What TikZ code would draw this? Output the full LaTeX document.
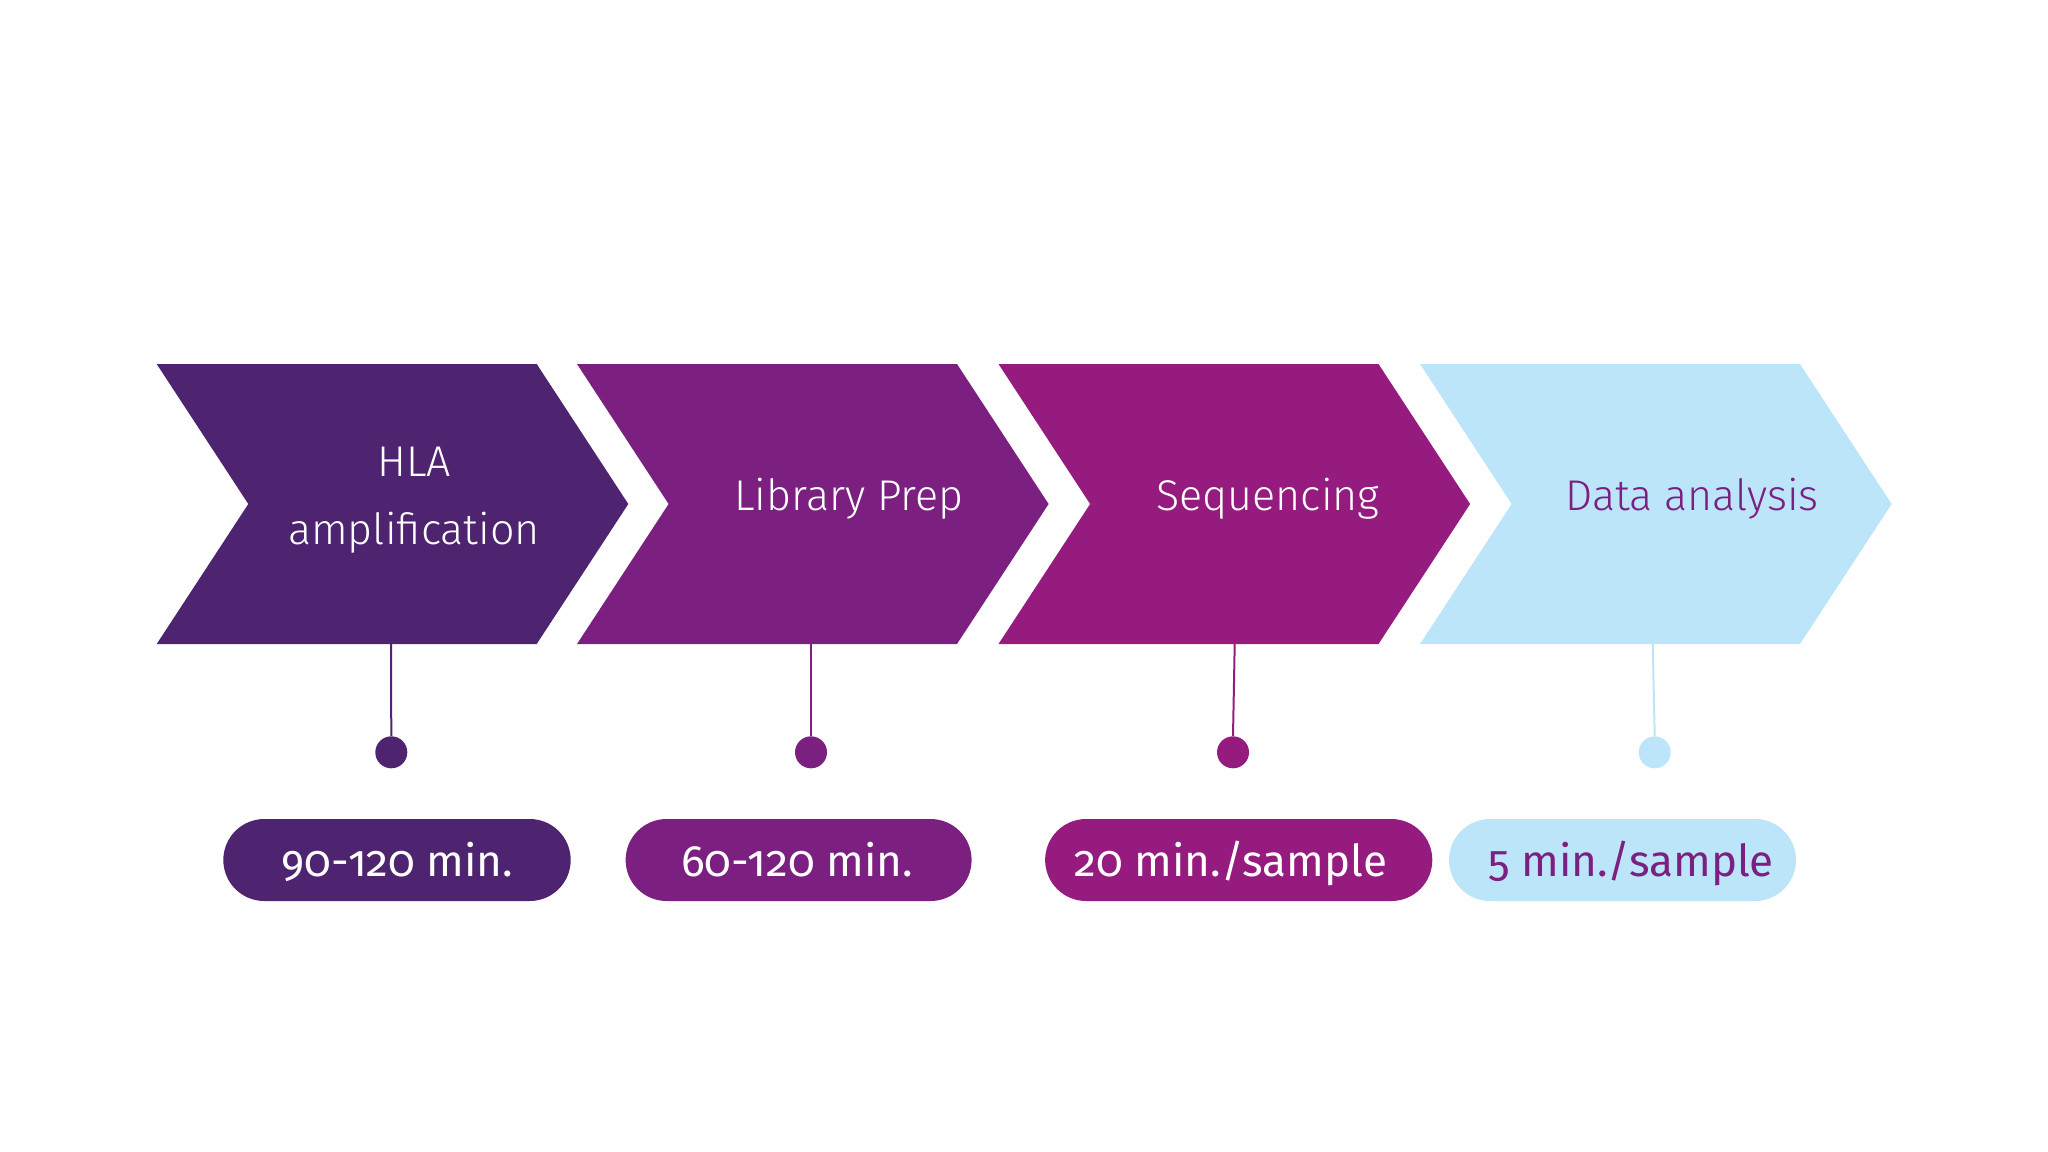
\documentclass[tikz,border=0pt]{standalone}
\usepackage{fontspec}
\setmainfont{Fira Sans}
\newfontfamily\chevfont{Fira Sans}[UprightFont=* Light]
\newfontfamily\pillfont{Fira Sans}[Numbers=OldStyle]
\usetikzlibrary{shapes.misc}
\definecolor{cA}{HTML}{4E2370}
\definecolor{cB}{HTML}{7B2080}
\definecolor{cC}{HTML}{951B7E}
\definecolor{cD}{HTML}{BDE5F9}
\tikzset{
  chevtext/.style={font=\chevfont\fontsize{21.5}{30}\selectfont, anchor=base, inner sep=0pt},
  pill/.style={rounded rectangle, minimum height=41pt, inner sep=0pt},
  pilltext/.style={font=\pillfont\fontsize{22}{26}\selectfont, anchor=base, inner sep=0pt},
  dotnode/.style={circle, minimum size=16pt, inner sep=0pt},
  stem/.style={line width=1pt}
}
\begin{document}
\begin{tikzpicture}[x=0.5pt,y=-0.5pt]
\useasboundingbox (0,0) rectangle (2048,1151);
% chevrons
\foreach \xo/\col in {156.7/cA,577/cB,998.5/cC,1420/cD}{
  \fill[\col] (\xo,364) -- ++(380,0) -- ++(91.6,140) -- ++(-91.6,140) -- ++(-380,0) -- ++(91.6,-140) -- cycle;
}
% chevron texts
\node[chevtext, text=white] (t1) at (414,476.7) {HLA};
\node[chevtext, text=white] (t1b) at (414,544) {amplification};
\node[chevtext, text=white] (t2) at (849,510.7) {Library Prep};
\node[chevtext, text=white] (t3) at (1268,510.7) {Sequencing};
\node[chevtext, text=cB] (t4) at (1692,510.7) {Data analysis};
% stem tops
\coordinate (s1) at (391,644);
\coordinate (s2) at (811,644);
\coordinate (s3) at (1234.7,644);
\coordinate (s4) at (1652.7,644);
% dots
\node[dotnode, fill=cA] (d1) at (391.3,752.3) {};
\node[dotnode, fill=cB] (d2) at (811,752.3) {};
\node[dotnode, fill=cC] (d3) at (1233,752.3) {};
\node[dotnode, fill=cD] (d4) at (1654.7,752.3) {};
\draw[stem, cA] (s1) -- (d1.north);
\draw[stem, cB] (s2) -- (d2.north);
\draw[stem, cC] (s3) -- (d3.north);
\draw[stem, cD] (s4) -- (d4.north);
% pills
\node[pill, fill=cA, minimum width=173.7pt] (p1) at (397,860) {};
\node[pill, fill=cB, minimum width=173pt] (p2) at (798.6,860) {};
\node[pill, fill=cC, minimum width=193.6pt] (p3) at (1238.7,860) {};
\node[pill, fill=cD, minimum width=173.5pt] (p4) at (1622.5,860) {};
\node[pilltext, text=white] (l1) at (397.5,876) {90-120 min.};
\node[pilltext, text=white] (l2) at (797,876) {60-120 min.};
\node[pilltext, text=white] (l3) at (1231,876) {20 min./sample};
\node[pilltext, text=cB] (l4) at (1631,876) {5 min./sample};
\end{tikzpicture}
\end{document}
